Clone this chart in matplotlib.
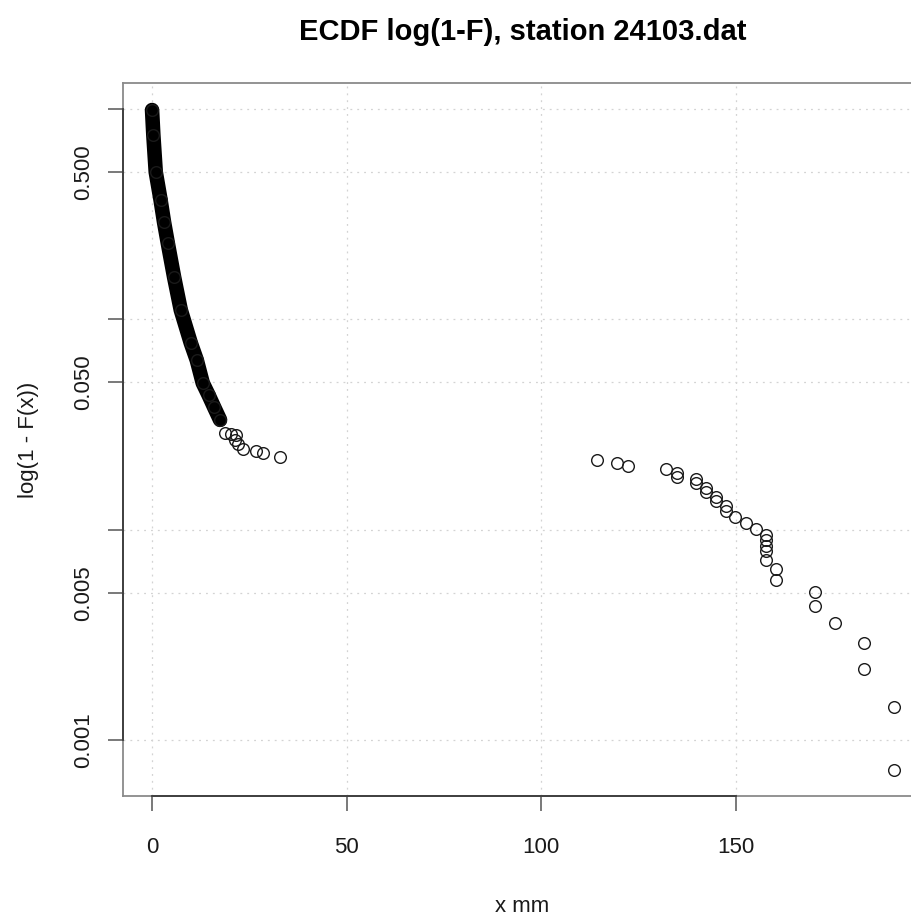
import matplotlib
matplotlib.use('Agg')
import matplotlib.pyplot as plt
from matplotlib.ticker import NullLocator, FixedLocator, FixedFormatter

plt.rcParams['font.family'] = ['Liberation Sans', 'DejaVu Sans']

# values: x in mm, p = 1 - F(x)
# dense part of the curve (hundreds of overlapping circles)
dense_x = [0.0, 0.33, 0.95, 2.19, 3.08, 4.04, 5.66, 7.38, 9.95, 11.49, 13.03, 14.52, 15.94, 17.48]
dense_p = [0.985, 0.749, 0.500, 0.368, 0.289, 0.230, 0.1585, 0.1105, 0.0770, 0.0639, 0.0497, 0.0436, 0.0382, 0.0332]

# separate circles at the end of the left group
tail_x = [18.77, 20.3, 21.34, 21.52, 22.1, 23.47, 26.73, 28.61, 32.9]
tail_p = [0.0289, 0.0285, 0.0267, 0.0282, 0.0255, 0.0241, 0.0236, 0.0231, 0.0222]

# far tail, 114 mm and up
far_x = [114.3, 119.5, 122.2, 132.1, 134.9, 134.9, 139.8, 139.8, 142.4, 142.4,
         145.0, 145.0, 147.6, 147.6, 149.9, 152.7, 155.3, 157.8, 157.8, 157.8,
         157.8, 157.8, 160.4, 160.4, 170.5, 170.5, 175.5, 183.0, 183.0, 190.7, 190.7]
far_p = [0.0214, 0.0208, 0.0200, 0.0193, 0.0186, 0.0178, 0.0173, 0.0166, 0.0157, 0.0151,
         0.0143, 0.0136, 0.0129, 0.0122, 0.0115, 0.0108, 0.01005, 0.00944, 0.00894, 0.00837,
         0.00787, 0.00718, 0.00649, 0.00577, 0.00505, 0.00434, 0.00361, 0.00288, 0.00217, 0.00144, 0.00072]

x_ticks = [0, 50, 100, 150]
x_labels = ['0', '50', '100', '150']
y_ticks = [1.0, 0.5, 0.1, 0.05, 0.01, 0.005, 0.001]
y_labels = ['', '0.500', '', '0.050', '', '0.005', '0.001']

fig = plt.figure(figsize=(9.12, 9.18), dpi=100)
ax = fig.add_axes([0.1349, 0.1329, 0.8761, 0.7767])

ax.set_yscale('log')
ax.set_xlim(-7.46, 197.9)
ax.set_ylim(0.000542, 1.324)

ax.grid(True, color='#d3d3d3', linestyle=(0, (1.5, 4)), lw=0.9)
ax.set_axisbelow(True)

mk = dict(linestyle='none', marker='o', mfc='none', mec='#1a1a1a', ms=8.4, mew=1.0, zorder=4)
ax.plot(dense_x, dense_p, color='black', lw=10.5, solid_capstyle='round',
        solid_joinstyle='round', zorder=3)
ax.plot(dense_x, dense_p, **mk)
ax.plot(tail_x, tail_p, **mk)
ax.plot(far_x, far_p, **mk)

ax.xaxis.set_major_locator(FixedLocator(x_ticks))
ax.xaxis.set_major_formatter(FixedFormatter(x_labels))
ax.yaxis.set_major_locator(FixedLocator(y_ticks))
ax.yaxis.set_major_formatter(FixedFormatter(y_labels))
ax.yaxis.set_minor_locator(NullLocator())
ax.xaxis.set_minor_locator(NullLocator())

ax.tick_params(axis='both', length=10.5, width=1.1, color='#555555',
               labelsize=16, labelcolor='#1a1a1a')
ax.tick_params(axis='x', pad=19)
ax.tick_params(axis='y', pad=10)
for lab in ax.get_yticklabels():
    lab.set_rotation(90)
    lab.set_va('center')

for sp in ax.spines.values():
    sp.set_color('#8a8a8a')
    sp.set_linewidth(1.3)

# darker axis lines between first and last tick, as R draws them
ax.plot([0, 0], [y_ticks[-1], y_ticks[0]], transform=ax.get_yaxis_transform(),
        color='#3a3a3a', lw=1.3, clip_on=False, zorder=5)
ax.plot([x_ticks[0], x_ticks[-1]], [0, 0], transform=ax.get_xaxis_transform(),
        color='#3a3a3a', lw=1.3, clip_on=False, zorder=5)

ax.set_title('ECDF log(1-F), station 24103.dat', fontsize=21, fontweight='bold', pad=31)
ax.set_xlabel('x mm', fontsize=16, color='#1a1a1a')
ax.set_ylabel('log(1 - F(x))', fontsize=16, color='#1a1a1a')
ax.xaxis.label.set_va('center')
ax.yaxis.label.set_va('center')
ax.xaxis.set_label_coords(0.4994, -0.155)
ax.yaxis.set_label_coords(-0.1185, 0.5)

fig.savefig('out.png', dpi=100)
